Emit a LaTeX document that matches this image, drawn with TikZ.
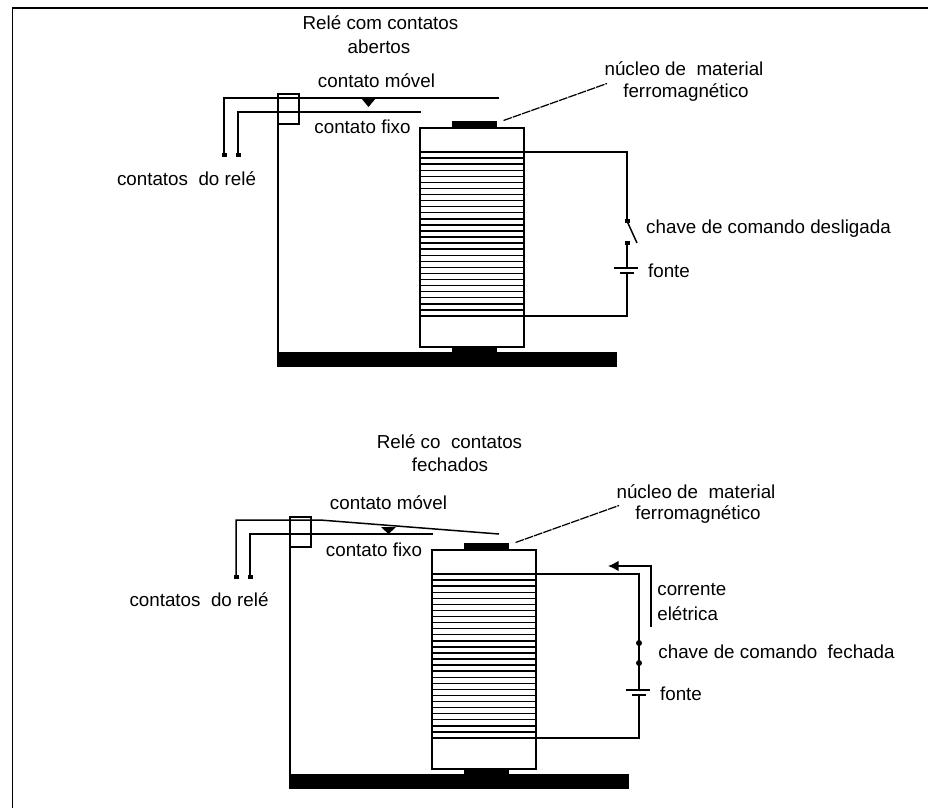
\documentclass[tikz,border=0pt]{standalone}
\usepackage{fontspec}
\setmainfont{Liberation Sans}
\usepackage{tikz}
\usetikzlibrary{arrows.meta}

\begin{document}
\begin{tikzpicture}[
    x=0.02cm, y=-0.02cm,
    wire/.style={black, line width=0.85pt},
    winding/.style={black, line width=0.8pt},
    leader/.style={black, line width=0.7pt, dash pattern=on 5pt off 0.6pt},
    solid part/.style={fill=black, draw=none},
    txt/.style={font=\fontsize{10.7}{13}\selectfont, inner sep=0pt},
]

\useasboundingbox (0,0) rectangle (928,808);

% ── Frame ───────────────────────────────────────────────────
\draw[black, line width=1.1pt] (12.5,808) -- (12.5,8) -- (928,8);

% ── Relay bodies (lower one is shifted) ─────────────────────
\foreach \dx/\dy in {0/0, 12/422} {
    \begin{scope}[shift={(\dx,\dy)}]
    % coil
    \draw[wire] (420,128) rectangle (524,347);
    \foreach \k in {0,...,27} {
        \pgfmathsetmacro{\ly}{152+\k*164/27}
        \draw[winding] (420,\ly) -- (524,\ly);
    }
    % core ends and base
    \fill[solid part] (452,121) rectangle (497,128);
    \fill[solid part] (452,347) rectangle (497,352);
    \fill[solid part] (277,352) rectangle (617,367);
    % circuit
    \draw[wire] (524,152) -- (627,152) -- (627,220);
    \draw[wire] (627,243) -- (627,268);
    \draw[wire] (627,273) -- (627,316) -- (524,316);
    % battery
    \draw[wire] (613.5,268) -- (637.5,268);
    \draw[wire] (620,273) -- (634,273);
    % leader to core
    \draw[leader] (503.5,120.5) -- (607,83.5);
    \end{scope}
}

% ── Upper relay: contacts open ──────────────────────────────
\draw[wire] (224,155) -- (224,98) -- (499,98);
\draw[wire] (238,155) -- (238,112) -- (421,112);
\draw[wire] (278,352) -- (278,94) -- (299,94) -- (299,124) -- (278,124);
\fill (361,98) -- (376,98) -- (368.5,107) -- cycle;
\fill (221.5,153) rectangle (226.5,157);
\fill (235.5,153) rectangle (240.5,157);
% open switch
\fill (624.5,219) rectangle (629.5,223);
\fill (624.5,241) rectangle (629.5,245);
\draw[wire] (627,221) -- (637,243);

% ── Lower relay: contacts closed ────────────────────────────
\draw[wire] (236,577) -- (236,520) -- (320,520) -- (499,534);
\draw[wire] (250,577) -- (250,534) -- (433,534);
\draw[wire] (290,774) -- (290,517) -- (311,517) -- (311,547) -- (290,547);
\fill (381,527) -- (396,527) -- (388.5,534) -- cycle;
\fill (233.5,575) rectangle (238.5,579);
\fill (247.5,575) rectangle (252.5,579);
% closed switch
\draw[wire] (639,574) -- (639,690);
\fill (639,643) circle (3);
\fill (639,663) circle (3);
% current arrow
\draw[wire, -{Latex[length=6pt,width=6pt]}] (651,627) -- (651,566) -- (608,566);

% ── Labels ──────────────────────────────────────────────────
\node[txt] (title1a) at (380.5,23) {Relé com contatos};
\node[txt] (title1b) at (379,47) {abertos};
\node[txt] (movel1) at (376.5,81) {contato móvel};
\node[txt] (fixo1) at (362.5,127) {contato fixo};
\node[txt] (rele1) at (186.5,179) {contatos\ \ do relé};
\node[txt] (nucleo1a) at (684,68.5) {núcleo de\ \ material};
\node[txt] (nucleo1b) at (686,93) {ferromagnético};
\node[txt] (chave1) at (768.5,229) {chave de comando desligada};
\node[txt] (fonte1) at (669,271) {fonte};

\node[txt] (title2a) at (449.5,442) {Relé co\ \ contatos};
\node[txt] (title2b) at (450,465) {fechados};
\node[txt] (movel2) at (388.5,503) {contato móvel};
\node[txt] (fixo2) at (374,550) {contato fixo};
\node[txt] (rele2) at (199,600) {contatos\ \ do relé};
\node[txt] (nucleo2a) at (696,492) {núcleo de\ \ material};
\node[txt] (nucleo2b) at (698,515) {ferromagnético};
\node[txt, anchor=west] (corrente) at (657,590) {corrente};
\node[txt, anchor=west] (eletrica) at (657,614) {elétrica};
\node[txt] (chave2) at (776.5,652) {chave de comando\ \ fechada};
\node[txt] (fonte2) at (681,694) {fonte};

\end{tikzpicture}
\end{document}
